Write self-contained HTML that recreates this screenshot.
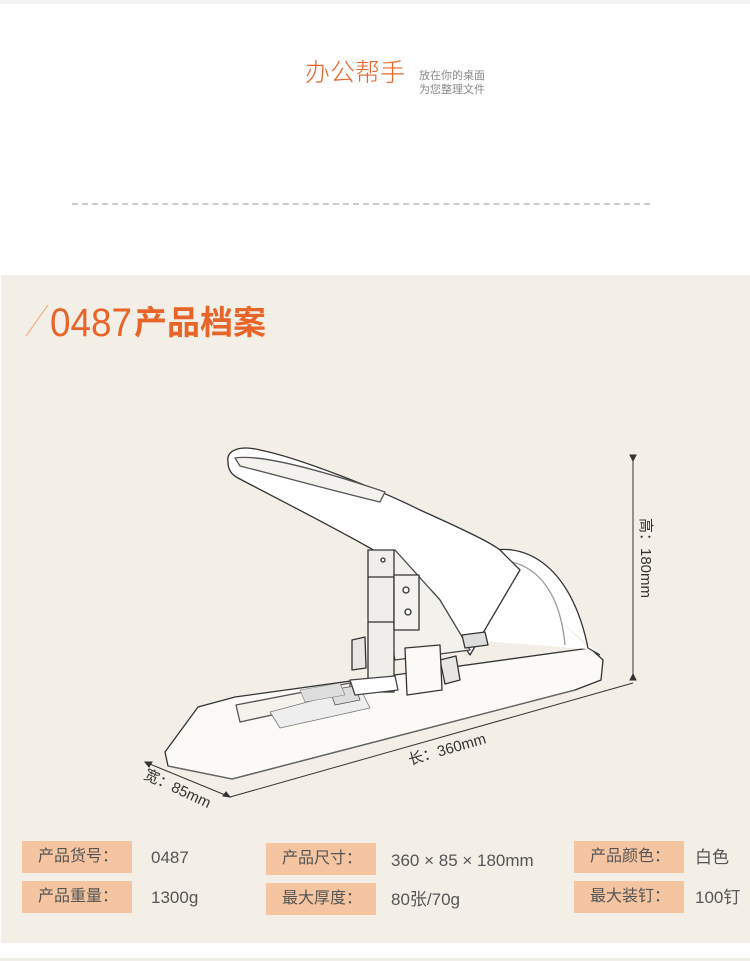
<!DOCTYPE html>
<html><head><meta charset="utf-8"><style>
html,body{margin:0;padding:0;background:#fff;}
body{width:750px;height:961px;position:relative;overflow:hidden;font-family:"Liberation Sans","Noto Sans CJK SC",sans-serif;}
.abs{position:absolute;}
.panel{left:1px;top:275px;width:749px;height:668px;background:#f3efe6;}
.lbl{position:absolute;background:#f4c5a0;color:#555;font-size:16px;line-height:32px;text-align:right;padding-right:14px;box-sizing:border-box;width:110px;height:32px;}
.val{position:absolute;color:#555;font-size:17px;line-height:32px;}
</style></head><body>
<div class="abs" style="left:0;top:0;width:750px;height:4px;background:#f3f3f3"></div>
<div class="abs" style="left:305px;top:56px;color:#e8652a;font-size:25px;line-height:30px;font-family:'Noto Sans CJK SC',sans-serif;font-weight:300">办公帮手</div>
<div class="abs" style="left:419px;top:68px;color:#888;font-size:11px;line-height:14px;font-family:'Noto Sans CJK SC',sans-serif">放在你的桌面<br>为您整理文件</div>
<div class="abs" style="left:72px;top:203px;width:578px;border-top:2px dashed #ccc"></div>
<div class="panel abs"></div>
<svg class="abs" style="left:0;top:0" width="750" height="961">
<line x1="26" y1="336" x2="48" y2="305" stroke="#f0a070" stroke-width="1"/>
<text x="50" y="336" font-family="Liberation Sans,sans-serif" font-size="40" fill="#e8652a" textLength="82" lengthAdjust="spacingAndGlyphs">0487</text>
<text x="134" y="334" font-family="Noto Sans CJK SC,sans-serif" font-weight="bold" font-size="33" fill="#e8652a">产品档案</text>
<!-- stapler -->
<g stroke="#333" stroke-width="1.3" fill="#fff" stroke-linejoin="round">
<path d="M165,752 L198,707 L235,697 L590,648 L603,660 L601,680 L575,690 L232,779 L168,766 Z" fill="#fbfaf7"/>
<path d="M168,766 L232,779 L575,690" fill="none" stroke="#666"/>
<path d="M236,705 L350,683 L350,698 L240,722 Z" fill="#f5f2ec" stroke="#555"/>
<path d="M270,712 L360,688 L370,708 L280,728Z" fill="#eee" stroke="#777" stroke-width="0.8"/>
<path d="M330,690 L355,686 L360,700 L335,705Z" fill="#ddd" stroke="#555" stroke-width="0.8"/>
<path d="M300,690 L340,683 L345,695 L305,702Z" fill="#ddd" stroke="#777" stroke-width="0.6"/>
<path d="M365,620 L470,640 L600,650 L590,650 L488,550 L470,545 Z" fill="#fff" stroke="none"/>
<path d="M482,553 C520,540 570,560 588,648 L600,655" fill="#fff"/>
<path d="M495,560 C535,560 560,590 565,645" fill="none" stroke="#999"/>
<path d="M228,462 C226,450 240,445 260,450 C300,458 380,490 420,510 C460,528 490,542 500,550 L520,570 L470,655 L460,640 L440,600 C420,575 390,560 370,548 C320,520 270,495 238,478 C230,474 228,468 228,462 Z"/>
<path d="M235,458 C260,454 320,470 385,492 L380,502 C330,490 280,476 240,466 Z" fill="#f4f2ee" stroke="#555"/>
<path d="M373,555 L395,550 L440,600 L470,650 L395,660 Z" fill="#f3f1ec" stroke="#444"/>
<rect x="368" y="550" width="26" height="142" fill="#f0eeea" stroke="#333"/>
<rect x="394" y="575" width="25" height="55" fill="#f4f2ee" stroke="#333"/>
<line x1="368" y1="577" x2="394" y2="577"/><line x1="368" y1="622" x2="394" y2="622"/>
<circle cx="383" cy="560" r="2" fill="#fff"/><circle cx="406" cy="590" r="3"/><circle cx="408" cy="612" r="3"/>
<path d="M352,640 L365,637 L366,668 L352,670Z" fill="#e8e6e2"/>
<path d="M440,660 L456,656 L460,680 L445,684Z" fill="#e8e6e2"/>
<path d="M405,648 L440,645 L442,690 L407,695Z" fill="#fbfaf7"/>
<path d="M350,680 L395,676 L398,690 L355,695Z" fill="#fff" stroke="#444"/>
<path d="M462,635 L485,632 L488,645 L465,648Z" fill="#ddd"/>
</g>
<!-- dimension lines -->
<g stroke="#333" stroke-width="1" fill="#333">
<line x1="633" y1="455" x2="633" y2="680"/>
<path d="M630,455 L636,455 L633,461Z"/><path d="M630,680 L636,680 L633,674Z"/>
<line x1="230" y1="797" x2="633" y2="683"/>
<line x1="145" y1="762" x2="230" y2="797"/>
<path d="M145,762 l7,0 l-3,5Z"/><path d="M230,797 l-7,-1 l3,-4Z"/>
</g>
<text transform="translate(641,518) rotate(90)" font-family="Liberation Sans,Noto Sans CJK SC,sans-serif" font-size="15" fill="#333">高：180mm</text>
<text transform="translate(410,765) rotate(-16)" font-family="Liberation Sans,Noto Sans CJK SC,sans-serif" font-size="15" fill="#333">长：360mm</text>
<text transform="translate(143,778) rotate(25)" font-family="Liberation Sans,Noto Sans CJK SC,sans-serif" font-size="15" fill="#333">宽：85mm</text>
</svg>
<div class="lbl" style="left:22px;top:841px">产品货号：</div>
<div class="lbl" style="left:22px;top:881px">产品重量：</div>
<div class="lbl" style="left:266px;top:843px">产品尺寸：</div>
<div class="lbl" style="left:266px;top:883px">最大厚度：</div>
<div class="lbl" style="left:574px;top:841px">产品颜色：</div>
<div class="lbl" style="left:574px;top:881px">最大装钉：</div>
<div class="val" style="left:151px;top:842px">0487</div>
<div class="val" style="left:151px;top:882px">1300g</div>
<div class="val" style="left:391px;top:845px">360 × 85 × 180mm</div>
<div class="val" style="left:391px;top:884px">80张/70g</div>
<div class="val" style="left:695px;top:842px">白色</div>
<div class="val" style="left:695px;top:882px">100钉</div>
<div class="abs" style="left:0;top:958px;width:750px;height:3px;background:#f0eee8"></div>
</body></html>
